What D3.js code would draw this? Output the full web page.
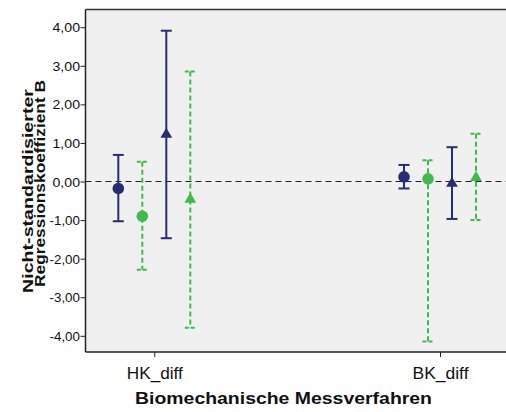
<!DOCTYPE html>
<html><head><meta charset="utf-8">
<script src="https://cdn.jsdelivr.net/npm/d3@7"></script>
<style>body{margin:0;background:#fff}svg{display:block}</style>
</head><body>
<svg id="c" width="506" height="412"></svg>
<script>
const categories = ["HK_diff", "BK_diff"];
const seriesNames = ["A", "B", "C", "D"];
const seriesColors = ["#282c75", "#3ebb4b", "#282c75", "#3ebb4b"];
const seriesShapes = ["circle", "circle", "triangle", "triangle"];
const seriesDashed = [false, true, false, true];
// estimate, lower, upper per category [HK, BK]
const est = [[-0.18, 0.12], [-0.90, 0.07], [1.22, -0.05], [-0.46, 0.10]];
const lower = [[-1.03, -0.18], [-2.29, -4.15], [-1.47, -0.97], [-3.79, -1.00]];
const upper = [[0.69, 0.43], [0.51, 0.55], [3.91, 0.89], [2.85, 1.24]];
const yTicks = [-4, -3, -2, -1, 0, 1, 2, 3, 4];

const FONT = "Liberation Sans, Arial, sans-serif";
const svg = d3.select("#c");
const L = 85.5, R = 506, T = 9.5, B = 352;
const y = d3.scaleLinear().domain([-4.42, 4.46]).range([B, T]);
const x = d3.scalePoint().domain(categories).range([154.3, 440]);
const xs = d3.scalePoint().domain(seriesNames).range([-36, 36]);

svg.append("rect").attr("x", L).attr("y", T).attr("width", R - L).attr("height", B - T)
  .attr("fill", "#f0f0f0");

svg.append("line").attr("x1", L).attr("x2", R).attr("y1", y(0)).attr("y2", y(0))
  .attr("stroke", "#222").attr("stroke-width", 1.2).attr("stroke-dasharray", "6,4");

const fmt = v => d3.format(".2f")(v).replace(".", ",").replace("−", "-");

const yAxis = svg.append("g").attr("transform", `translate(${L},0)`)
  .call(d3.axisLeft(y).tickValues(yTicks).tickSize(5).tickSizeOuter(0).tickFormat(fmt));
yAxis.select(".domain").remove();
yAxis.selectAll("text").attr("font-family", FONT).attr("font-size", 12.5).attr("fill", "#111")
  .attr("x", -5.5).attr("dy", "0.36em")
  .attr("textLength", d => d < 0 ? 30.5 : 27.5).attr("lengthAdjust", "spacingAndGlyphs");
yAxis.selectAll("line").attr("stroke", "#222");

const xAxis = svg.append("g").attr("transform", `translate(0,${B})`)
  .call(d3.axisBottom(x).tickSize(5).tickSizeOuter(0));
xAxis.select(".domain").remove();
xAxis.selectAll("text").attr("font-family", FONT).attr("font-size", 16).attr("fill", "#111")
  .attr("y", 27).attr("dy", null)
  .attr("textLength", 56).attr("lengthAdjust", "spacingAndGlyphs");
xAxis.selectAll("line").attr("stroke", "#222");

svg.append("line").attr("x1", L).attr("x2", L).attr("y1", T).attr("y2", B).attr("stroke", "#222").attr("stroke-width", 1.5);
svg.append("line").attr("x1", L).attr("x2", R).attr("y1", B).attr("y2", B).attr("stroke", "#222").attr("stroke-width", 1.5);
svg.append("line").attr("x1", L).attr("x2", R).attr("y1", T).attr("y2", T).attr("stroke", "#333").attr("stroke-width", 1.5);

const capW = 5.5;
seriesNames.forEach((s, si) => {
  const g = svg.append("g");
  categories.forEach((c, ci) => {
    const cx = x(c) + xs(s);
    const col = seriesColors[si];
    const dash = seriesDashed[si] ? "5,3" : null;
    g.append("line").attr("x1", cx).attr("x2", cx).attr("y1", y(upper[si][ci])).attr("y2", y(lower[si][ci]))
      .attr("stroke", col).attr("stroke-width", 2).attr("stroke-dasharray", dash);
    [upper[si][ci], lower[si][ci]].forEach(v => {
      g.append("line").attr("x1", cx - capW).attr("x2", cx + capW).attr("y1", y(v)).attr("y2", y(v))
        .attr("stroke", col).attr("stroke-width", 2).attr("stroke-dasharray", seriesDashed[si] ? "4,2" : null);
    });
    if (seriesShapes[si] === "circle") {
      g.append("circle").attr("cx", cx).attr("cy", y(est[si][ci])).attr("r", 5.8).attr("fill", col);
    } else {
      g.append("path").attr("d", d3.symbol(d3.symbolTriangle, 60)())
        .attr("transform", `translate(${cx},${y(est[si][ci])})`).attr("fill", col);
    }
  });
});

svg.append("text").attr("x", 283.5).attr("y", 404).attr("text-anchor", "middle")
  .attr("font-family", FONT).attr("font-weight", "bold").attr("font-size", 16.5).attr("fill", "#111")
  .attr("textLength", 297).attr("lengthAdjust", "spacingAndGlyphs")
  .text("Biomechanische Messverfahren");

svg.append("text").attr("transform", "translate(32.5,191) rotate(-90)")
  .attr("text-anchor", "middle").attr("font-family", FONT)
  .attr("font-weight", "bold").attr("font-size", 14.5).attr("fill", "#111")
  .attr("textLength", 204).attr("lengthAdjust", "spacingAndGlyphs")
  .text("Nicht-standardisierter");
svg.append("text").attr("transform", "translate(45,183.5) rotate(-90)")
  .attr("text-anchor", "middle").attr("font-family", FONT)
  .attr("font-weight", "bold").attr("font-size", 14.5).attr("fill", "#111")
  .attr("textLength", 207).attr("lengthAdjust", "spacingAndGlyphs")
  .text("Regressionskoeffizient B");
</script>
</body></html>
